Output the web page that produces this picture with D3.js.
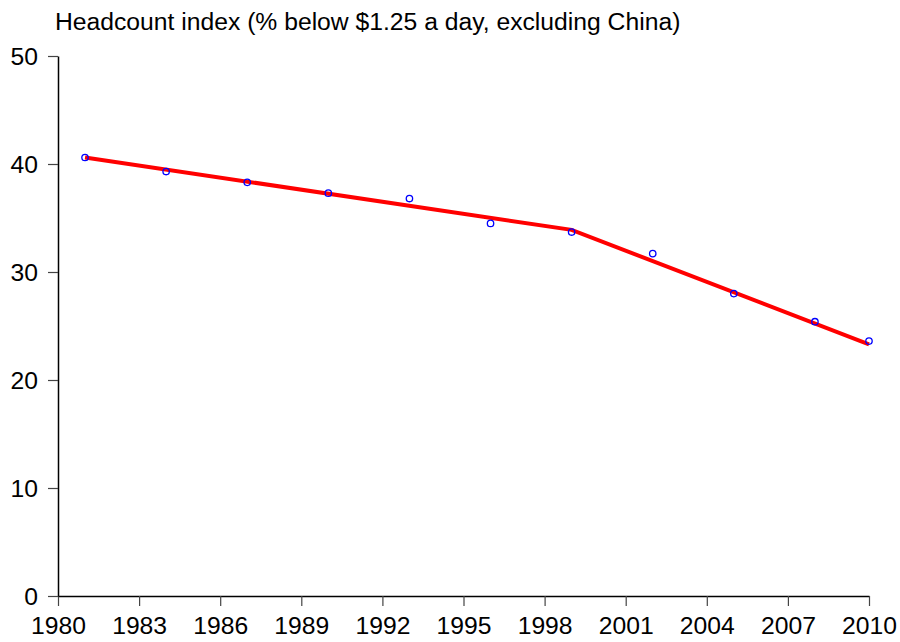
<!DOCTYPE html>
<html>
<head>
<meta charset="utf-8">
<script src="https://cdn.jsdelivr.net/npm/d3@7"></script>
<style>
  body { margin: 0; background: #fff; }
  svg text { font-family: "Liberation Sans", Arial, sans-serif; }
</style>
</head>
<body>
<svg width="900" height="642"></svg>
<script>
// Survey years and headcount index (% below $1.25 a day, excl. China)
const years = [1981, 1984, 1987, 1990, 1993, 1996, 1999, 2002, 2005, 2008, 2010];
const headcount = [40.6, 39.3, 38.3, 37.3, 36.8, 34.5, 33.7, 31.7, 28.0, 25.4, 23.6];

// Piecewise linear trend (break at 1999)
const trendYears = [1981, 1999, 2010];
const trendValues = [40.6, 33.9, 23.3];

const xTicks = [1980, 1983, 1986, 1989, 1992, 1995, 1998, 2001, 2004, 2007, 2010];
const yTicks = [0, 10, 20, 30, 40, 50];

const svg = d3.select("svg"),
    margin = { top: 56, right: 31, bottom: 46, left: 58 },
    width = 900 - margin.left - margin.right,
    height = 642 - margin.top - margin.bottom,
    g = svg.append("g").attr("transform", `translate(${margin.left},${margin.top})`);

const x = d3.scaleLinear().domain([1980, 2010]).range([0, width]);
const y = d3.scaleLinear().domain([0, 50]).range([height, 0]);

// Axes
const xAxis = g.append("g")
    .attr("transform", `translate(0,${height})`)
    .call(d3.axisBottom(x).tickValues(xTicks).tickFormat(d3.format("d")).tickSize(10).tickPadding(10).tickSizeOuter(0));

const yAxis = g.append("g")
    .call(d3.axisLeft(y).tickValues(yTicks).tickSize(10).tickPadding(10).tickSizeOuter(0));

[xAxis, yAxis].forEach(a => {
    a.select(".domain").attr("stroke", "#000").attr("stroke-width", 1.5);
    a.selectAll(".tick line").attr("stroke", "#444").attr("stroke-width", 1.2);
    a.selectAll(".tick text").attr("fill", "#000").style("font-size", "24.7px");
});
yAxis.selectAll(".tick text").attr("dy", "0.36em");

// Trend line
g.append("path")
    .datum(trendYears.map((yr, i) => [yr, trendValues[i]]))
    .attr("fill", "none")
    .attr("stroke", "#ff0000")
    .attr("stroke-width", 4)
    .attr("d", d3.line().x(d => x(d[0])).y(d => y(d[1])));

// Data points
g.selectAll("circle.pt")
    .data(years.map((yr, i) => [yr, headcount[i]]))
    .join("circle")
    .attr("class", "pt")
    .attr("cx", d => x(d[0]))
    .attr("cy", d => y(d[1]))
    .attr("r", 3.2)
    .attr("fill", "none")
    .attr("stroke", "#0000ff")
    .attr("stroke-width", 1.3);

// Title
svg.append("text")
    .attr("x", 55)
    .attr("y", 30)
    .style("font-size", "24.7px")
    .attr("fill", "#000")
    .text("Headcount index (% below $1.25 a day, excluding China)");
</script>
</body>
</html>
